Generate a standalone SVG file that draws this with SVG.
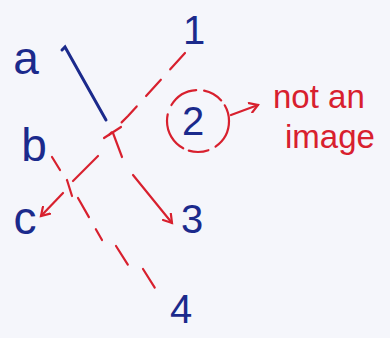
<svg xmlns="http://www.w3.org/2000/svg" width="390" height="338" viewBox="0 0 390 338">
<style>
.lbl{font-family:"Liberation Sans","DejaVu Sans",sans-serif;fill:#1b2a8c;font-size:40px;text-anchor:middle}
.let{font-size:46px}
.note{font-family:"Liberation Sans","DejaVu Sans",sans-serif;fill:#d8202e;font-size:33px}
.red{stroke:#d8202e;stroke-width:2.2;fill:none;stroke-linecap:round;stroke-linejoin:round}
.dash{stroke-dasharray:22 14}
</style>
<defs>
<marker id="ah" markerWidth="12" markerHeight="12" refX="9" refY="6" orient="auto" markerUnits="userSpaceOnUse">
<path d="M1,1 L9,6 L1,11" fill="none" stroke="#d8202e" stroke-width="2.2" stroke-linecap="round"/>
</marker>
</defs>
<rect width="390" height="338" fill="#f5f6fb"/>
<g id="connectors">
<path d="M62,50 L65,47 L106,120" stroke="#1b2a8c" stroke-width="3" fill="none" stroke-linecap="round"/>
<path class="red" d="M104,138 L121,127"/>
<path class="red" d="M113,133 L122,157"/>
<path class="red" d="M133,175 L172,223" marker-end="url(#ah)"/>
<path class="red dash" d="M185,53 L128,116 L109,135"/>
<path class="red" d="M98,156 L73,181"/>
<path class="red" d="M63,193 L41,216" marker-end="url(#ah)"/>
<path class="red" d="M52,157 L60,170"/>
<path class="red" d="M67,180 L72,196"/>
<path class="red dash" d="M78,198 L102,240 M116,246 L130,268 M143,269 L160,296"/>
<path class="red" d="M231,115 L258,105" marker-end="url(#ah)"/>
</g>
<g id="node-a"><text class="lbl let" x="26" y="74">a</text></g>
<g id="node-b"><text class="lbl let" x="34" y="161">b</text></g>
<g id="node-c"><text class="lbl let" x="25" y="234">c</text></g>
<g id="node-1"><text class="lbl" x="194" y="44">1</text></g>
<g id="node-2">
<circle cx="198" cy="121" r="31" class="red" stroke-dasharray="30 8 20 6 40 10"/>
<text class="lbl" x="193" y="135">2</text>
</g>
<g id="node-3"><text class="lbl" x="192" y="233">3</text></g>
<g id="node-4"><text class="lbl" x="181" y="323">4</text></g>
<g id="note">
<text class="note" x="273" y="108">not an</text>
<text class="note" x="285" y="148">image</text>
</g>
</svg>
